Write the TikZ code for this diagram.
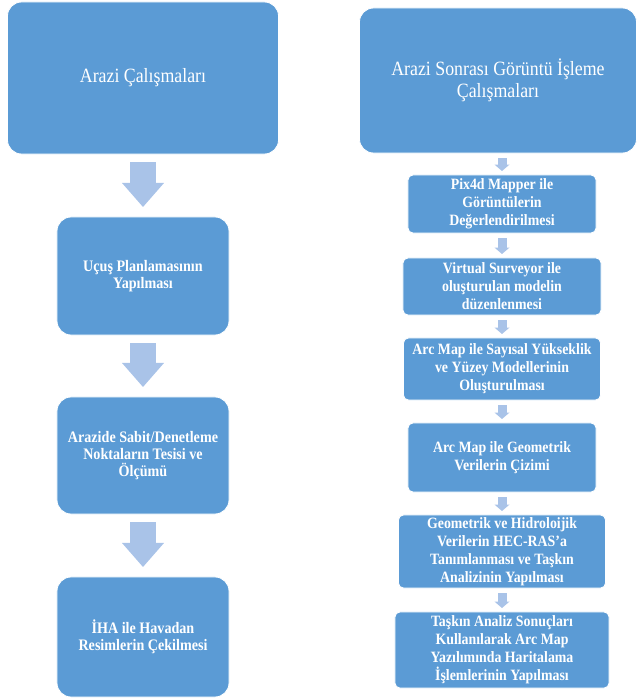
\documentclass[tikz,border=0pt]{standalone}
\usepackage{fontspec}
\setmainfont{Liberation Serif}[FakeStretch=0.88]
\usetikzlibrary{arrows.meta}
\definecolor{boxblue}{HTML}{5B9BD5}
\definecolor{arrowblue}{HTML}{A9C3E8}

\begin{document}
\begin{tikzpicture}[x=0.025cm, y=-0.025cm,
    mainbox/.style={rectangle, rounded corners=10pt, fill=boxblue, draw=white, line width=0.6pt,
        text=white, align=center, inner sep=2pt, outer sep=0pt},
    titlebox/.style={mainbox, font=\fontsize{14.4}{15.5}\selectfont},
    leftbox/.style={mainbox, minimum width=4.3cm, font=\bfseries\fontsize{11.4}{12.3}\selectfont},
    stepbox/.style={mainbox, rounded corners=3.5pt, inner sep=1pt, font=\bfseries\fontsize{11.2}{12.8}\selectfont},
    bigarrow/.style={color=arrowblue, line width=0.65cm, shorten <=0.2cm, shorten >=0.25cm,
        -{Triangle[length=0.6cm, width=1.05cm, line width=0pt]}},
    smallarrow/.style={color=arrowblue, line width=0.225cm, shorten <=0.125cm, shorten >=0.1cm,
        -{Triangle[length=0.16cm, width=0.375cm, line width=0pt]}}]
        \useasboundingbox (0,0) rectangle (638,699);
        % Left column
            \node[titlebox, minimum width=6.775cm, minimum height=3.8cm] (arazi) at (143,78) {Arazi Çalışmaları};
            \node[leftbox, minimum height=2.95cm] (ucus) at (143,276) {Uçuş Planlamasının\\Yapılması};
            \node[leftbox, minimum height=2.925cm] (sabit) at (143,455.5) {Arazide Sabit/Denetleme\\Noktaların Tesisi ve\\Ölçümü};
            \node[leftbox, minimum height=3cm] (iha) at (143,637) {İHA ile Havadan\\Resimlerin Çekilmesi};
        % Right column
            \node[titlebox, minimum width=6.925cm, minimum height=3.625cm] (sonrasi) at (498,80.5) {Arazi Sonrası Görüntü İşleme\\Çalışmaları};
            \node[stepbox, minimum width=4.7cm, minimum height=1.45cm] (pix) at (502,204) {Pix4d Mapper ile\\Görüntülerin\\Değerlendirilmesi};
            \node[stepbox, minimum width=4.95cm, minimum height=1.425cm] (virtual) at (502,286.5) {Virtual Surveyor ile\\oluşturulan modelin\\düzenlenmesi};
            \node[stepbox, minimum width=4.925cm, minimum height=1.55cm] (sayisal) at (502,369) {Arc Map ile Sayısal Yükseklik\\ve Yüzey Modellerinin\\Oluşturulması};
            \node[stepbox, minimum width=4.7cm, minimum height=1.725cm] (geometrik) at (502,457.5) {Arc Map ile Geometrik\\Verilerin Çizimi};
            \node[stepbox, minimum width=5.175cm, minimum height=1.825cm] (hecras) at (502,551.5) {Geometrik ve Hidroloijik\\Verilerin HEC-RAS'a\\Tanımlanması ve Taşkın\\Analizinin Yapılması};
            \node[stepbox, minimum width=5.35cm, minimum height=1.9cm] (harita) at (502,650) {Taşkın Analiz Sonuçları\\Kullanılarak Arc Map\\Yazılımında Haritalama\\İşlemlerinin Yapılması};
        % Arrows
            \draw[bigarrow] (arazi) -- (ucus);
            \draw[bigarrow] (ucus) -- (sabit);
            \draw[bigarrow] (sabit) -- (iha);
            \draw[smallarrow] (sonrasi.south -| pix) -- (pix);
            \draw[smallarrow] (pix) -- (virtual);
            \draw[smallarrow] (virtual) -- (sayisal);
            \draw[smallarrow] (sayisal) -- (geometrik);
            \draw[smallarrow] (geometrik) -- (hecras);
            \draw[smallarrow] (hecras) -- (harita);
        \end{tikzpicture}
\end{document}
